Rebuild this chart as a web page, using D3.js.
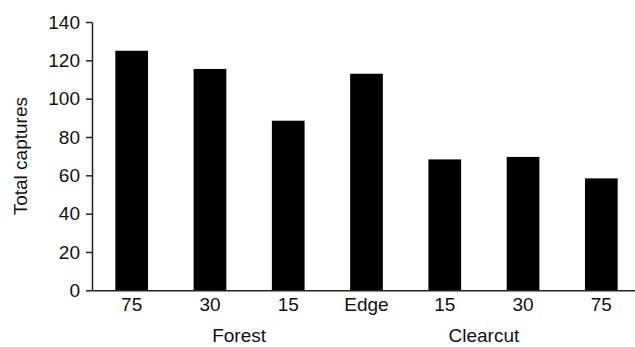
<!DOCTYPE html>
<html>
<head>
<meta charset="utf-8">
<script src="https://cdn.jsdelivr.net/npm/d3@7"></script>
<style>
  body { margin: 0; background: #fff; }
  svg { display: block; font-family: Arial, "Liberation Sans", sans-serif; }
</style>
</head>
<body>
<div id="chart"></div>
<script>
// values
let categories = ['F75', 'F30', 'F15', 'Edge', 'C15', 'C30', 'C75'];
let tick_labels = ['75', '30', '15', 'Edge', '15', '30', '75'];
let captures = [125, 115.5, 88.5, 113, 68.3, 69.6, 58.4];
let y_ticks = [0, 20, 40, 60, 80, 100, 120, 140];
let groups = ['Forest', 'Clearcut'];
let group_at = [['F30', 'F15'], ['C15', 'C30']];

let width = 635, height = 347;
let margin = {top: 22, right: -6, bottom: 57, left: 92};

let svg = d3.select('#chart').append('svg')
  .attr('width', width)
  .attr('height', height);

let sx = d3.scaleBand()
  .domain(categories)
  .range([margin.left, width - margin.right])
  .paddingInner(0.582)
  .paddingOuter(0.298);

let sy = d3.scaleLinear()
  .domain([0, 140])
  .range([height - margin.bottom + 0.3, margin.top]);

// bars
svg.append('g')
  .selectAll('rect')
  .data(captures)
  .join('rect')
    .attr('x', (d, i) => sx(categories[i]))
    .attr('width', sx.bandwidth())
    .attr('y', d => sy(d))
    .attr('height', d => sy(0) - sy(d))
    .attr('fill', '#000');

// y axis
let yAxis = svg.append('g')
  .attr('transform', `translate(${margin.left},0)`)
  .call(d3.axisLeft(sy).tickValues(y_ticks).tickSize(6).tickSizeOuter(0).tickPadding(6));
yAxis.select('.domain').attr('stroke', '#222').attr('stroke-width', 1.5);
yAxis.selectAll('.tick line').attr('stroke', '#222').attr('stroke-width', 1.5);
yAxis.selectAll('.tick text').attr('font-size', 19).attr('fill', '#111')
  .attr('font-family', 'Arial, "Liberation Sans", sans-serif');

// x axis
let xAxis = svg.append('g')
  .attr('transform', `translate(0,${sy(0)})`)
  .call(d3.axisBottom(sx).tickSize(0).tickSizeOuter(0).tickPadding(7.5)
    .tickFormat((d, i) => tick_labels[i]));
xAxis.select('.domain').attr('stroke', '#222').attr('stroke-width', 1.5);
xAxis.selectAll('.tick text').attr('font-size', 19).attr('fill', '#111')
  .attr('font-family', 'Arial, "Liberation Sans", sans-serif');

// group labels under the ticks (kept just inside the bottom edge)
svg.append('g')
  .selectAll('text')
  .data(groups)
  .join('text')
    .attr('x', (d, i) => {
      let a = sx(group_at[i][0]), b = sx(group_at[i][1]);
      return (a + b) / 2 + sx.bandwidth() / 2 + (i === 0 ? -10 : 0);
    })
    .attr('y', sy(0) + 51.5)
    .attr('text-anchor', 'middle')
    .attr('font-size', 19)
    .attr('fill', '#111')
    .text(d => d);

// y title
svg.append('text')
  .attr('transform', `translate(27,${(sy(0) + sy(140)) / 2}) rotate(-90)`)
  .attr('text-anchor', 'middle')
  .attr('font-size', 19)
  .attr('fill', '#111')
  .text('Total captures');
</script>
</body>
</html>
